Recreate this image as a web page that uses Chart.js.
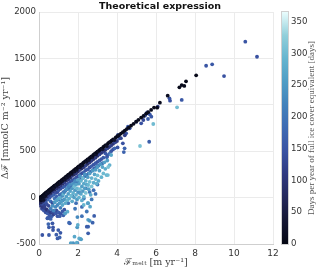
<!DOCTYPE html>
<html>
<head>
<meta charset="utf-8">
<script src="https://cdn.jsdelivr.net/npm/chart.js@4"></script>
<style>
  html, body { margin: 0; padding: 0; background: #fff; }
  #wrap { width: 320px; height: 270px; }
</style>
</head>
<body>
<div id="wrap"><canvas id="meltChart" width="320" height="270"></canvas></div>
<script>
// [melt flux m/yr, delta flux mmolC/m2/yr, days of full ice cover]
const nearOrigin = [
  [0.05,-60,90],[0.1,-90,100],[0.15,-120,130],[0.2,-100,110],[0.25,-140,150],[0.3,-115,120],
  [0.35,-160,140],[0.4,-130,100],[0.45,-170,160],[0.5,-145,130],[0.55,-190,150],[0.6,-160,120],
  [0.65,-200,165],[0.7,-150,140],[0.75,-180,125],[0.85,-170,155],[0.9,-140,135],[0.95,-200,150],
  [1.0,-160,165],[1.1,-175,145],[1.2,-150,160],[1.3,-130,150],[1.25,-190,170]
];
const lowOutliers = [
  [0.17,-403,150],[0.51,-403,160],[0.72,-350,150],[0.89,-400,165],[1.06,-430,170],[0.51,-320,160],
  [0.72,-320,150],[0.45,-220,165],[0.54,-220,150],[0.6,-230,175],[0.43,-223,160],[0.69,-277,155],
  [0.48,-285,175],[1.06,-200,165],[1.58,-277,170],[1.54,-270,180],[1.96,-320,250],[1.97,-210,230],
  [1.75,-490,240],[1.97,-490,180],[2.12,-446,260],[2.52,-240,260],[2.6,-250,240],[2.52,-313,170],
  [2.83,-198,165],[2.75,-270,170],[2.52,-385,165],[1.99,-295,280],[1.82,-421,270],[2.06,-440,280],
  [2.16,-450,260],[1.94,-486,275],[1.63,-490,260],[2.45,-313,165],[0.95,-440,165],[0.99,-350,160],
  [1.1,-380,155]
];
const bluePoints = [
  [0.15,-70,130],[0.25,-60,150],[0.3,-85,120],[0.35,-45,160],[0.4,-70,140],[0.45,-20,170],
  [0.5,-90,130],[0.55,0,150],[0.6,-40,185],[0.65,20,160],[0.7,-60,140],[0.75,30,170],
  [0.8,-10,195],[0.85,50,145],[0.9,10,175],[0.95,60,135],[1.0,-20,190],[1.0,80,155],
  [1.05,30,180],[1.1,95,140],[1.15,40,190],[1.2,110,150],[1.25,60,180],[1.3,120,165],
  [1.35,75,195],[1.4,140,140],[1.45,90,185],[1.5,150,155],[1.55,100,200],[1.6,170,145],
  [1.65,120,175],[1.7,185,160],[1.75,130,190],[1.8,200,140],[1.85,150,180],[1.9,215,155],
  [1.95,160,195],[2.0,230,145],[2.05,185,180],[2.1,245,160],[2.15,195,190],[2.2,262,140],
  [2.25,210,180],[2.3,275,165],[2.35,230,200],[2.4,295,150],[2.45,245,185],[2.5,305,160],
  [2.55,260,195],[2.6,325,145],[2.65,280,180],[2.7,340,165],[2.75,295,190],[2.8,355,150],
  [2.85,315,175],[2.9,370,160],[2.95,330,200],[3.0,385,145],[3.05,345,185],[3.1,400,165],
  [3.2,415,150],[3.25,370,180],[3.3,430,160],[3.4,477,155],[3.48,434,170],[3.5,455,150],
  [3.6,470,180],[3.7,500,155],[3.8,520,145],[3.88,531,175],[3.88,602,150],[4.03,541,150],
  [4.05,675,140],[4.13,639,160],[4.3,585,145],[4.39,531,170],[4.35,491,170],[4.47,693,150],
  [4.56,764,155],[4.65,747,140],[4.99,818,160],[5.24,800,145],[5.42,882,150],[5.59,847,165],
  [5.35,836,135],[5.45,890,140],[5.52,908,130],[5.55,919,145],[5.68,897,150],[5.76,872,155],
  [5.65,602,165],[6.09,980,120],[6.69,1070,150],[6.72,1044,145],[7.32,1052,155],[8.57,1421,150],
  [8.88,1436,155],[9.49,1310,145],[10.58,1680,150],[11.18,1518,145],
  [1.2,-30,200],[1.5,-60,195],[1.7,20,205],[1.9,-60,190],[2.1,50,200],[2.3,-10,205],
  [2.4,100,195],[2.6,60,200],[2.8,80,190],[3.0,140,200],[2.9,40,195],[2.2,-100,190],
  [2.7,-20,205],[2.45,-150,200],[2.2,-200,195],[1.85,-120,200]
];
const cyanPoints = [
  [0.6,-120,210],[0.7,-90,240],[0.75,-140,220],[0.8,-50,250],[0.85,-100,230],[0.9,-30,260],
  [0.95,-80,225],[1.0,-10,270],[1.05,-60,245],[1.1,0,280],[1.1,-110,215],[1.15,-40,255],
  [1.2,20,235],[1.2,-80,270],[1.25,40,290],[1.3,-20,250],[1.3,60,220],[1.35,-60,275],
  [1.4,10,260],[1.4,90,240],[1.45,-30,295],[1.5,40,255],[1.5,120,225],[1.55,-10,280],
  [1.6,70,265],[1.6,140,235],[1.65,20,300],[1.7,100,250],[1.7,-40,275],[1.75,150,240],
  [1.75,50,285],[1.8,0,260],[1.8,120,300],[1.85,80,250],[1.85,180,230],[1.9,30,280],
  [1.9,140,265],[1.95,-20,255],[1.95,100,295],[2.0,60,245],[2.0,190,270],[2.05,0,285],
  [2.05,150,255],[2.1,90,305],[2.1,230,235],[2.15,40,270],[2.15,180,290],[2.2,120,260],
  [2.2,-30,280],[2.25,70,250],[2.25,210,300],[2.3,150,270],[2.3,10,290],[2.35,100,255],
  [2.35,250,240],[2.4,180,285],[2.4,50,310],[2.45,140,265],[2.5,220,250],[2.5,-60,280],
  [2.52,136,295],[2.55,90,260],[2.6,260,255],[2.6,170,300],[2.65,30,275],[2.7,210,285],
  [2.7,120,310],[2.75,290,250],[2.8,160,280],[2.85,250,265],[2.9,200,295],[2.9,300,255],
  [2.95,150,285],[3.0,330,250],[3.0,240,300],[3.05,180,275],[3.1,290,260],[3.15,360,245],
  [3.2,220,290],[3.25,330,270],[3.3,260,300],[3.35,380,260],[3.46,243,295],[3.4,310,280],
  [3.5,400,255],[3.53,243,300],[3.62,351,285],[3.7,459,270],[3.55,330,310],[5.18,556,310],
  [5.86,793,300],[7.08,973,305],[2.62,-98,270],[2.52,-61,260],[2.29,-80,290],[1.46,-152,280],
  [1.34,-170,260]
];
const darkRow = [
  [0.1,-50,70],[0.2,-40,90],[0.3,-20,80],[0.4,10,75],[0.5,30,100],[0.6,50,70],[0.7,65,110],
  [0.8,85,80],[0.9,100,95],[1.0,118,75],[1.1,130,105],[1.2,150,85],[1.3,165,115],[1.4,185,80],
  [1.5,198,100],[1.6,215,85],[1.7,235,110],[1.8,250,80],[1.9,262,105],[2.0,282,85],[2.1,298,115],
  [2.2,315,80],[2.3,330,100],[2.4,345,120],[2.5,365,85],[2.6,380,105],[2.7,398,115],[2.8,415,90],
  [2.9,430,110],[3.0,450,85],[3.1,465,120],[3.2,482,100],[3.3,500,115],[3.4,515,90],[3.5,530,125],
  [3.6,545,105],[3.7,560,120],[3.8,580,100],[3.9,595,130],[4.0,610,110],[4.2,640,125],[4.4,672,115]
];
const edgePoints = [
  [0.02,-5,10],[0.05,-15,8],[0.08,5,12],[0.1,-30,15],[0.12,10,6],[0.15,-10,20],[0.18,22,9],
  [0.2,0,14],[0.22,-25,25],[0.25,35,7],[0.28,15,18],[0.3,42,10],[0.32,20,22],[0.35,52,6],
  [0.38,40,15],[0.4,60,12],[0.42,45,28],[0.45,68,9],[0.48,55,20],[0.5,78,8],[0.52,64,30],
  [0.55,85,11],[0.58,72,18],[0.6,95,7],[0.63,80,25],[0.66,105,10],[0.7,110,6],[0.72,96,20],
  [0.75,120,12],[0.78,108,28],[0.8,128,8],[0.84,130,16],[0.88,140,10],[0.9,128,30],[0.94,150,9],
  [0.98,158,14],[1.0,145,24],[1.04,168,7],[1.08,172,12],[1.1,160,30],[1.14,183,10],[1.18,190,8],
  [1.2,178,22],[1.25,202,11],[1.3,210,6],[1.32,195,26],[1.36,220,9],[1.4,228,14],[1.44,215,30],
  [1.48,242,8],[1.52,248,12],[1.55,235,25],[1.6,262,10],[1.64,268,7],[1.67,255,22],[1.7,278,9],
  [1.75,285,13],[1.8,295,8],[1.82,280,28],[1.86,305,11],[1.9,312,6],[1.94,300,24],[1.98,325,10],
  [2.02,330,14],[2.06,340,8],[2.1,328,30],[2.14,352,9],[2.18,358,12],[2.22,348,26],[2.26,372,7],
  [2.3,378,11],[2.35,385,16],[2.4,395,9],[2.44,388,28],[2.48,410,8],[2.52,415,13],[2.56,405,30],
  [2.6,428,10],[2.65,436,7],[2.7,445,12],[2.74,438,26],[2.78,458,9],[2.82,465,14],[2.88,475,8],
  [2.92,468,28],[2.96,488,10],[3.0,495,12],[3.05,500,25],[3.1,512,9],[3.15,520,8],[3.2,528,14],
  [3.25,520,32],[3.3,545,10],[3.36,555,7],[3.42,565,12],[3.48,555,30],[3.54,585,9],[3.6,595,11],
  [3.66,600,24],[3.72,615,8],[3.8,628,12],[3.86,620,30],[3.94,650,9],[4.02,662,10],[4.1,672,15],
  [4.2,690,8],[4.3,705,12],[4.4,722,9],[4.5,738,14],[4.6,755,10],[4.72,775,8],[4.85,795,12],
  [4.98,818,9],[5.1,838,11],[5.24,862,8],[5.36,880,13],[5.5,905,10],[5.6,920,9],[5.75,945,12],
  [5.9,970,8],[6.06,969,10],[6.2,1023,14],[6.6,1098,16],[7.2,1188,8],[7.32,1213,10],
  [7.45,1203,9],[7.54,1253,6],[8.06,1318,7]
];

const xTicks = [0, 2, 4, 6, 8, 10, 12];
const yTicks = [-500, 0, 500, 1000, 1500, 2000];
const dayTicks = [0, 50, 100, 150, 200, 250, 300, 350];
const maxDays = 365;

// cmocean "ice"-like colormap
const iceStops = [
  [4,6,19],[20,22,50],[36,40,90],[47,57,128],[57,82,162],[62,106,178],
  [67,130,187],[80,157,197],[102,181,207],[146,207,218],[234,253,253]
];
function iceColor(t) {
  t = Math.max(0, Math.min(1, t));
  const p = t * (iceStops.length - 1);
  const i = Math.min(Math.floor(p), iceStops.length - 2);
  const f = p - i;
  const a = iceStops[i], b = iceStops[i + 1];
  return 'rgb(' + [0,1,2].map(k => Math.round(a[k] + (b[k] - a[k]) * f)).join(',') + ')';
}

const allPoints = [].concat(nearOrigin, lowOutliers, bluePoints, cyanPoints, darkRow, edgePoints);

const colorbarPlugin = {
  id: 'colorbar',
  afterDraw(chart) {
    const cb = chart.scales.cb;
    const ctx = chart.ctx;
    const x0 = cb.left + 9, w = 6;
    const top = cb.getPixelForValue(maxDays), bottom = cb.getPixelForValue(0);
    const grad = ctx.createLinearGradient(0, bottom, 0, top);
    for (let i = 0; i <= 20; i++) grad.addColorStop(i / 20, iceColor(i / 20));
    ctx.save();
    ctx.fillStyle = grad;
    ctx.fillRect(x0, top, w, bottom - top);
    ctx.strokeStyle = '#d0d0d0';
    ctx.lineWidth = 1;
    ctx.strokeRect(x0 - 0.5, top - 0.5, w + 1, bottom - top + 1);
    // colorbar label
    ctx.translate(312, (top + bottom) / 2);
    ctx.rotate(-Math.PI / 2);
    ctx.fillStyle = '#555';
    ctx.font = '9px "Liberation Serif", "DejaVu Serif", serif';
    ctx.textAlign = 'center';
    ctx.textBaseline = 'middle';
    ctx.fillText('Days per year of full ice cover equivalent [days]', 0, 0);
    ctx.restore();
  }
};

const tickFont = { family: 'DejaVu Sans', size: 9 };
const gridColor = '#ebebeb';

new Chart(document.getElementById('meltChart').getContext('2d'), {
  type: 'scatter',
  data: {
    datasets: [{
      data: allPoints.map(p => ({ x: p[0], y: p[1] })),
      backgroundColor: allPoints.map(p => iceColor(p[2] / maxDays)),
      pointRadius: 1.9,
      borderWidth: 0
    }]
  },
  options: {
    responsive: false,
    animation: false,
    layout: { padding: 0 },
    plugins: {
      legend: { display: false },
      tooltip: { enabled: false },
      title: {
        display: true,
        text: 'Theoretical expression',
        color: '#111',
        font: { family: 'DejaVu Sans', size: 9.5, weight: 'bold', lineHeight: 1 },
        padding: { top: 2, bottom: 0.5 }
      }
    },
    scales: {
      x: {
        type: 'linear',
        min: 0, max: 12,
        afterBuildTicks: s => { s.ticks = xTicks.map(v => ({ value: v })); },
        afterFit: s => { s.height = 26; },
        grid: { color: gridColor, drawTicks: false },
        border: { color: '#cfcfcf' },
        ticks: { font: tickFont, color: '#333', padding: 4, maxRotation: 0, callback: v => String(v) },
        title: {
          display: true,
          text: 'ℱₘₑₗₜ [m yr⁻¹]',
          color: '#444',
          font: { family: 'DejaVu Serif', size: 9.5 },
          padding: { top: 0, bottom: 2 }
        }
      },
      y: {
        type: 'linear',
        min: -500, max: 2000,
        afterBuildTicks: s => { s.ticks = yTicks.map(v => ({ value: v })); },
        afterFit: s => { s.width = 39; },
        grid: { color: gridColor, drawTicks: false },
        border: { color: '#cfcfcf' },
        ticks: { font: { family: 'DejaVu Sans', size: 8.6 }, color: '#333', padding: 3, callback: v => String(v) },
        title: {
          display: true,
          text: 'Δℱ [mmolC m⁻² yr⁻¹]',
          color: '#444',
          font: { family: 'DejaVu Serif', size: 9.5 },
          padding: { top: 0, bottom: 0 }
        }
      },
      cb: {
        type: 'linear',
        axis: 'y',
        position: 'right',
        min: 0, max: maxDays,
        afterBuildTicks: s => { s.ticks = dayTicks.map(v => ({ value: v })); },
        afterFit: s => { s.width = 47; },
        // invisible tick marks push the labels past the colour bar
        grid: { display: true, drawOnChartArea: false, drawTicks: true, tickLength: 16, color: 'rgba(0,0,0,0)' },
        border: { display: false },
        ticks: { font: { family: 'DejaVu Sans', size: 8.6 }, color: '#333', padding: 2, callback: v => String(v) }
      }
    }
  },
  plugins: [colorbarPlugin]
});
</script>
</body>
</html>
